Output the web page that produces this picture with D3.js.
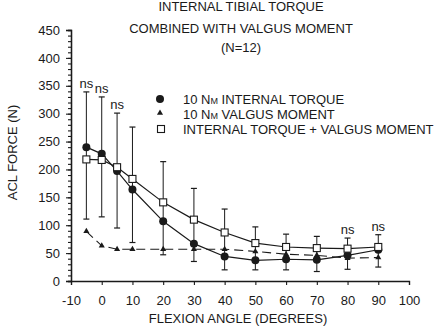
<!DOCTYPE html>
<html>
<head>
<meta charset="utf-8">
<script src="https://cdn.jsdelivr.net/npm/d3@7"></script>
<style>
  body { margin: 0; background: #fff; }
  svg { display: block; font-family: "Liberation Sans", Arial, sans-serif; }
</style>
</head>
<body>
<div id="chart-area"></div>
<script>
// values
var angles = [-5, 0, 5, 10, 20, 30, 40, 50, 60, 70, 80, 90];
var internalTorque = [240, 228, 197, 164, 107, 67, 44, 37, 39, 38, 46, 56];
var valgusMoment = [89, 63, 57, 57, 57, 57, 57, 53, 48, 46, 41, 42];
var combined = [218, 217, 204, 183, 141, 110, 87, 68, 61, 59, 58, 61];
var errorHigh = [339, 330, 301, 276, 214, 166, 129, 97, 84, 80, 77, 83];
var errorLow = [111, 115, 95, 69, 47, 35, 20, 20, 20, 17, 21, 25];
var nsAngles = [-5, 0, 5, 80, 90];
var xTicks = [-10, 0, 10, 20, 30, 40, 50, 60, 70, 80, 90, 100];
var yTicks = [0, 50, 100, 150, 200, 250, 300, 350, 400, 450];
var titleLines = ["INTERNAL TIBIAL TORQUE", "COMBINED WITH VALGUS MOMENT", "(N=12)"];

var margin = {top: 30, right: 29, bottom: 53, left: 71};
var width = 338;
var height = 251;
var ink = "#1a1a1a";

var svg = d3.select("#chart-area")
    .append("svg")
    .attr("width", width + margin.left + margin.right)
    .attr("height", height + margin.top + margin.bottom);

var g = svg.append("g")
    .attr("transform", "translate(" + margin.left + ", " + margin.top + ")");

var x = d3.scaleLinear().domain([-10, 100]).range([0, width]);
var y = d3.scaleLinear().domain([0, 450]).range([height, 0]);

// title
svg.selectAll(".title").data(titleLines).enter().append("text")
    .attr("class", "title")
    .attr("x", 241)
    .attr("y", (d, i) => [11, 33, 52][i])
    .attr("text-anchor", "middle")
    .attr("font-size", "13px")
    .style("fill", ink)
    .text((d) => d);

// axes
var yMinor = d3.axisLeft(y).tickValues(d3.range(0, 451, 10)).tickSize(3).tickFormat("");
var yMajor = d3.axisLeft(y).tickValues(yTicks).tickSize(5).tickPadding(6).tickFormat((d) => String(d));
var xAxis = d3.axisBottom(x).tickValues(xTicks).tickSize(4).tickPadding(11).tickFormat((d) => String(d));

g.append("g").call(yMinor);
var yAxisGroup = g.append("g").call(yMajor);
var xAxisGroup = g.append("g").attr("transform", "translate(0, " + height + ")").call(xAxis);

g.selectAll(".domain").attr("stroke", ink).attr("stroke-width", 1.3);
g.selectAll(".tick line").attr("stroke", ink).attr("stroke-width", 1.1);
g.selectAll(".tick text").attr("font-size", "13px").attr("font-family", "Liberation Sans, Arial, sans-serif").style("fill", ink);

g.append("text")
    .attr("x", width / 2 - 2)
    .attr("y", height + 42)
    .attr("font-size", "13px")
    .attr("text-anchor", "middle")
    .style("fill", ink)
    .text("FLEXION ANGLE (DEGREES)");

g.append("text")
    .attr("x", -(height / 2) + 3)
    .attr("y", -54)
    .attr("font-size", "13px")
    .attr("text-anchor", "middle")
    .attr("transform", "rotate(-90)")
    .style("fill", ink)
    .text("ACL FORCE (N)");

// error bars
var bars = g.selectAll(".err").data(angles).enter().append("g").attr("class", "err");
bars.append("line")
    .attr("x1", (d) => x(d)).attr("x2", (d) => x(d))
    .attr("y1", (d, i) => y(errorHigh[i])).attr("y2", (d, i) => y(errorLow[i]))
    .attr("stroke", ink).attr("stroke-width", 1);
bars.append("line")
    .attr("x1", (d) => x(d) - 3).attr("x2", (d) => x(d) + 3)
    .attr("y1", (d, i) => y(errorHigh[i])).attr("y2", (d, i) => y(errorHigh[i]))
    .attr("stroke", ink).attr("stroke-width", 1.2);
bars.append("line")
    .attr("x1", (d) => x(d) - 3).attr("x2", (d) => x(d) + 3)
    .attr("y1", (d, i) => y(errorLow[i])).attr("y2", (d, i) => y(errorLow[i]))
    .attr("stroke", ink).attr("stroke-width", 1.2);

// lines
var line = (vals) => d3.line().x((d) => x(d)).y((d, i) => y(vals[i]))(angles);

g.append("path").attr("d", line(valgusMoment))
    .attr("fill", "none").attr("stroke", ink).attr("stroke-width", 1.1)
    .attr("stroke-dasharray", "9,5");
g.append("path").attr("d", line(internalTorque))
    .attr("fill", "none").attr("stroke", ink).attr("stroke-width", 1.2);
g.append("path").attr("d", line(combined))
    .attr("fill", "none").attr("stroke", ink).attr("stroke-width", 1.2);

// markers
var tri = d3.symbol().type(d3.symbolTriangle).size(16);

g.selectAll(".tri").data(angles).enter().append("path")
    .attr("class", "tri")
    .attr("d", tri)
    .attr("transform", (d, i) => "translate(" + x(d) + "," + y(valgusMoment[i]) + ")")
    .attr("fill", ink);

g.selectAll(".dot").data(angles).enter().append("circle")
    .attr("class", "dot")
    .attr("cx", (d) => x(d))
    .attr("cy", (d, i) => y(internalTorque[i]))
    .attr("r", 4)
    .attr("fill", ink);

g.selectAll(".sq").data(angles).enter().append("rect")
    .attr("class", "sq")
    .attr("x", (d) => x(d) - 3.5)
    .attr("y", (d, i) => y(combined[i]) - 3.5)
    .attr("width", 7).attr("height", 7)
    .attr("fill", "#fff").attr("stroke", ink).attr("stroke-width", 1.1);

// ns labels
g.selectAll(".ns").data(nsAngles).enter().append("text")
    .attr("class", "ns")
    .attr("x", (d) => x(d))
    .attr("y", (d) => y(errorHigh[angles.indexOf(d)]) - 4)
    .attr("text-anchor", "middle")
    .attr("font-size", "13px")
    .style("fill", ink)
    .text("ns");

// legend
var legend = svg.append("g");
var legendLabels = [["10 N", "M", " INTERNAL TORQUE"], ["10 N", "M", " VALGUS MOMENT"], ["", "", "INTERNAL TORQUE + VALGUS MOMENT"]];
legendLabels.forEach((lab, i) => {
    var ly = 99 + i * 15;
    var t = legend.append("text")
        .attr("x", 183).attr("y", ly + 4.5)
        .attr("font-size", "13px")
        .style("fill", ink);
    t.append("tspan").text(lab[0]);
    t.append("tspan").attr("font-size", "9px").text(lab[1]);
    t.append("tspan").text(lab[2]);
});
legend.append("circle").attr("cx", 160).attr("cy", 99).attr("r", 4).attr("fill", ink);
legend.append("path").attr("d", tri).attr("transform", "translate(160,113)").attr("fill", ink);
legend.append("rect").attr("x", 157.5).attr("y", 125.5).attr("width", 7).attr("height", 7)
    .attr("fill", "#fff").attr("stroke", ink).attr("stroke-width", 1.1);
</script>
</body>
</html>
